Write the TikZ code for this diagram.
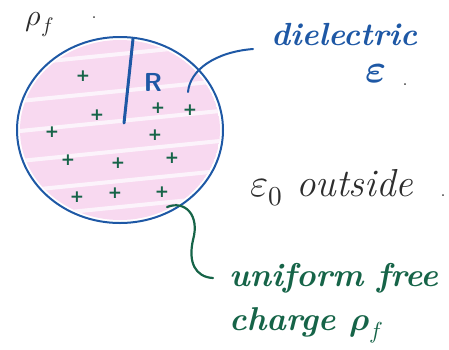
\documentclass[tikz,border=0pt]{standalone}
\usepackage{fontspec}
\usepackage{unicode-math}
\newfontfamily\plusfont{DejaVu Sans}
\definecolor{inkblue}{RGB}{30,88,165}
\definecolor{inkgreen}{RGB}{22,100,72}
\definecolor{inkgray}{RGB}{45,45,45}
\definecolor{pinkfill}{RGB}{244,196,232}
\tikzset{
  plus/.style={text=inkgreen,font=\plusfont\bfseries\fontsize{17}{17}\selectfont,inner sep=0pt},
  bluetxt/.style={text=inkblue,font=\itshape\bfseries\fontsize{32}{34}\selectfont,inner sep=0pt},
  greentxt/.style={text=inkgreen,font=\itshape\bfseries\fontsize{33}{44}\selectfont,inner sep=0pt,align=left},
  graytxt/.style={text=inkgray,font=\itshape\fontsize{39}{40}\selectfont,inner sep=0pt},
  dotnode/.style={text=inkgray,font=\fontsize{22}{22}\selectfont,inner sep=0pt},
}
\begin{document}
\begin{tikzpicture}[x=1pt,y=-1pt]
\useasboundingbox (0,0) rectangle (449,349);
% sphere fill
\begin{scope}
\clip (120,130) ellipse [x radius=100, y radius=90];
\fill[pinkfill,opacity=0.65] (120,130) ellipse [x radius=100, y radius=90];
\foreach \y in {55,92,122,152,182,208}{
  \draw[white,line width=4pt,opacity=0.7] (10,\y+10) -- (230,\y-12);
}
\end{scope}
\draw[inkblue,line width=2pt] (120,130) ellipse [x radius=103, y radius=93];
\coordinate (ctr) at (124,123);
\coordinate (top) at (133,39);
\draw[inkblue,line width=3pt,line cap=round] (top) -- (ctr);
\node[text=inkblue,font=\bfseries\fontsize{26}{26}\selectfont\sffamily,inner sep=0pt] (R) at (153,82) {R};
% charges
\foreach \p [count=\i] in {(83,76),(97,115),(52,132),(158,108),(190,110),(155,135),(68,160),(118,163),(172,158),(77,197),(115,193),(162,192)}{
  \node[plus] (q\i) at \p {+};
}
% top-left rho_f
\node[text=inkgray,font=\fontsize{30}{30}\selectfont,inner sep=0pt,anchor=base] (rho) at (40,25) {$\rho_f$};
\node[dotnode] (dot1) at (94,18) {.};
% dielectric label
\node[bluetxt,anchor=base west] (diel) at (271,45) {dielectric};
\node[text=inkblue,font=\fontsize{40}{40}\selectfont,inner sep=0pt] (eps) at (376,74) {$\symbf{\varepsilon}$};
\node[dotnode] (dot2) at (405,85) {.};
\coordinate (bstart) at (188,92);
\coordinate (bend) at (253,49);
\draw[inkblue,line width=2pt,line cap=round] (bstart) .. controls (190,70) and (215,52) .. (bend);
% eps0 outside
\node[graytxt,anchor=base west] (out) at (250,196) {$\varepsilon_0$ outside};
\node[dotnode] (dot3) at (443,196) {.};
% uniform free charge
\node[greentxt,anchor=base west] (unif) at (229,330) {uniform free\\charge $\symbf{\rho}_f$};
\coordinate (gstart) at (167,207);
\coordinate (gend) at (213,278);
\draw[inkgreen,line width=2.2pt,line cap=round] (gstart) .. controls (185,200) and (200,215) .. (193,240) .. controls (188,262) and (195,277) .. (gend);
\end{tikzpicture}
\end{document}
